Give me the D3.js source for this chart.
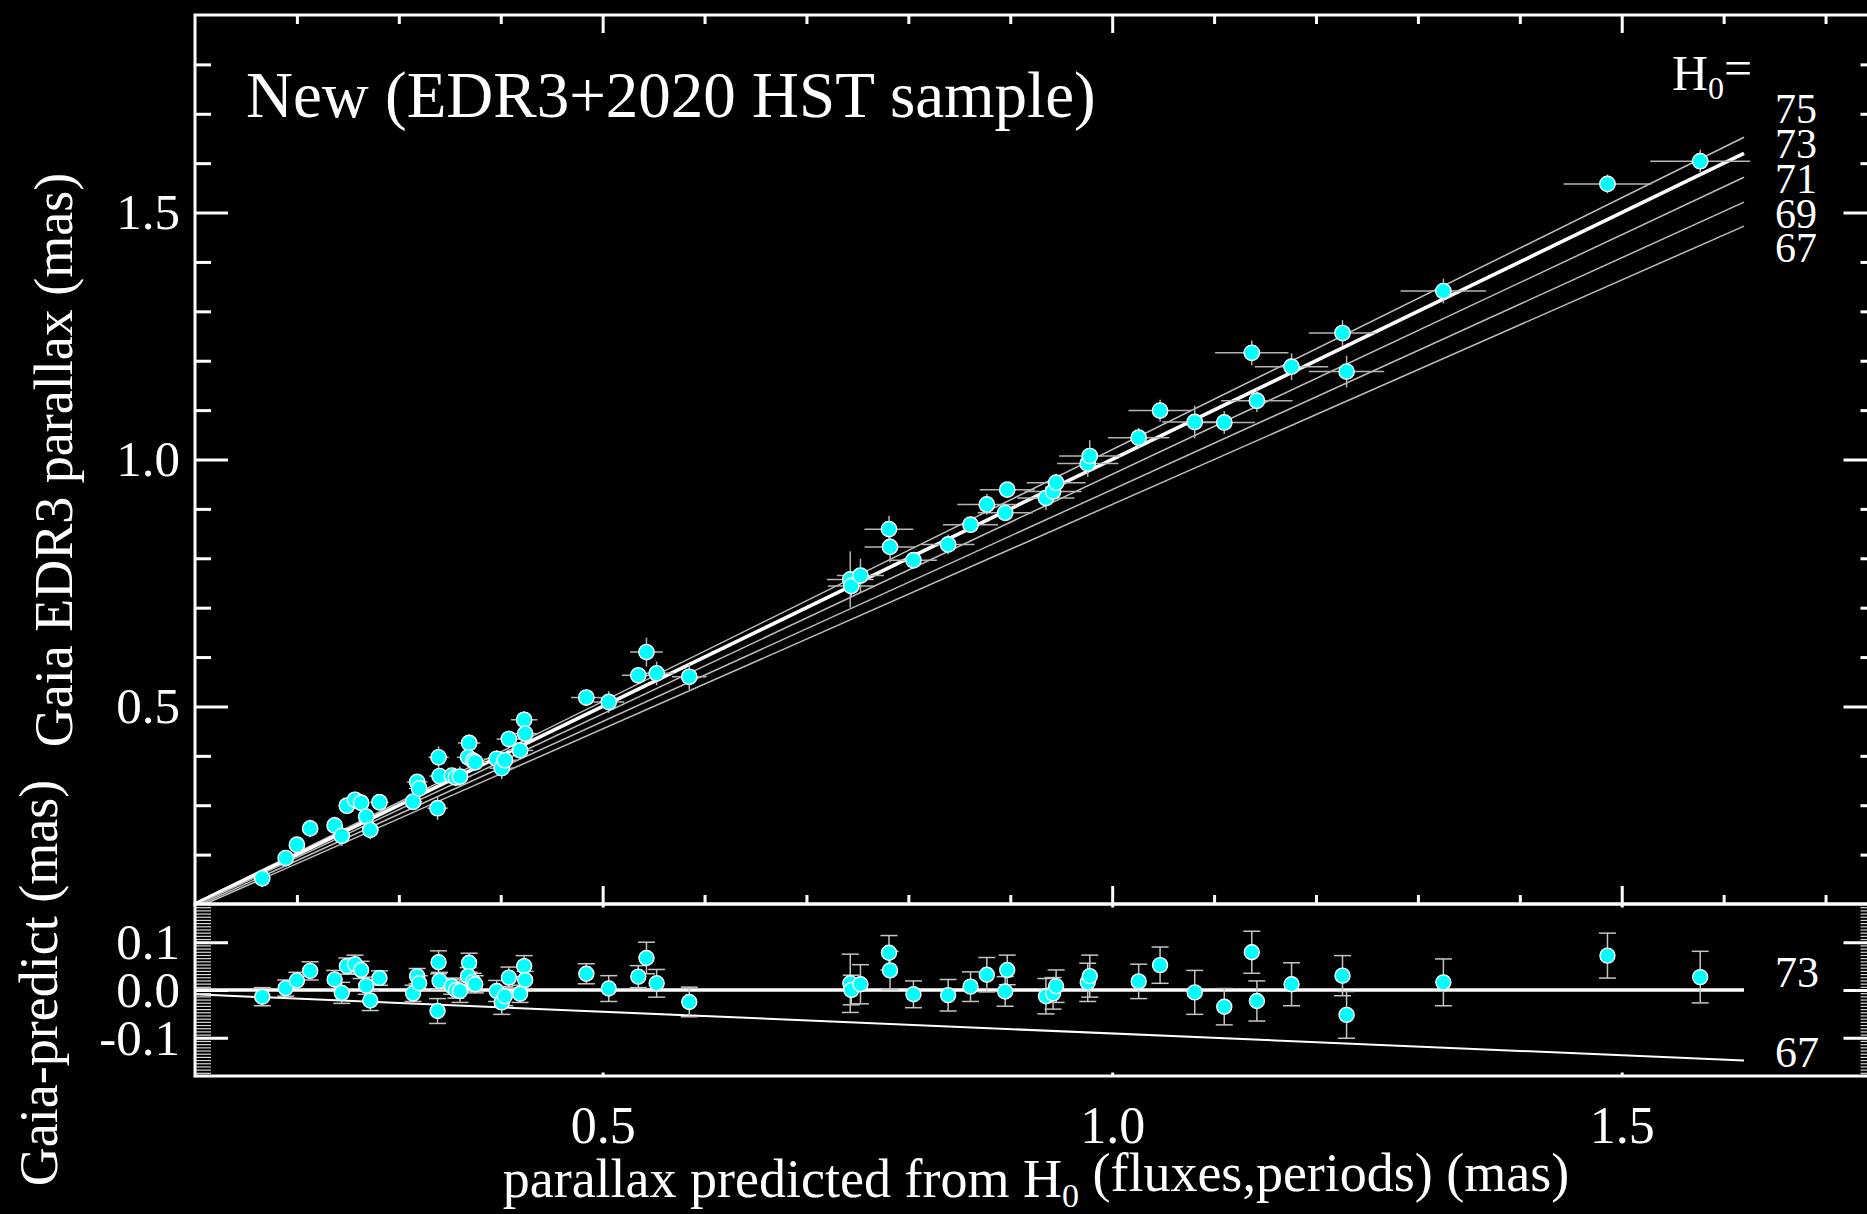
<!DOCTYPE html>
<html>
<head>
<meta charset="utf-8">
<script src="https://cdn.jsdelivr.net/npm/d3@7"></script>
<style>
  html, body { margin: 0; padding: 0; background: #000; }
  svg { display: block; }
  text { font-family: "Liberation Serif", "Times New Roman", serif; fill: #fff; }
</style>
</head>
<body>
<svg id="chart" width="1867" height="1214"></svg>
<script>
// Cepheid parallaxes: value predicted from H0 (fluxes, periods) vs. Gaia EDR3 measurement
const predicted = [0.166, 0.189, 0.200, 0.213, 0.237, 0.244, 0.249, 0.257, 0.263, 0.268, 0.272, 0.281,
  0.314, 0.318, 0.320, 0.339, 0.340, 0.338, 0.352, 0.356, 0.360, 0.369, 0.368, 0.373, 0.375,
  0.396, 0.401, 0.404, 0.408, 0.419, 0.423, 0.424, 0.484, 0.506, 0.535, 0.543, 0.553, 0.585,
  0.743, 0.744, 0.753, 0.781, 0.782, 0.805, 0.839, 0.861, 0.877, 0.895, 0.897, 0.935, 0.942,
  0.945, 0.976, 0.978, 1.026, 1.047, 1.081, 1.110, 1.137, 1.142, 1.176, 1.226, 1.230, 1.325,
  1.486, 1.577];
const gaia = [0.152, 0.193, 0.220, 0.253, 0.259, 0.238, 0.299, 0.311, 0.305, 0.277, 0.250, 0.306,
  0.307, 0.347, 0.334, 0.397, 0.359, 0.294, 0.360, 0.356, 0.358, 0.426, 0.397, 0.390, 0.387,
  0.394, 0.375, 0.391, 0.434, 0.411, 0.473, 0.445, 0.518, 0.509, 0.563, 0.610, 0.567, 0.560,
  0.757, 0.744, 0.765, 0.859, 0.823, 0.796, 0.828, 0.868, 0.909, 0.892, 0.939, 0.922, 0.935,
  0.953, 0.992, 1.007, 1.044, 1.099, 1.076, 1.075, 1.216, 1.119, 1.188, 1.256, 1.178, 1.341,
  1.558, 1.604];
// uncertainty of the predicted parallax (horizontal bars, upper panel)
const predictedErr = [0.005, 0.006, 0.006, 0.006, 0.007, 0.007, 0.008, 0.008, 0.008, 0.008, 0.008, 0.009,
  0.009, 0.010, 0.010, 0.010, 0.010, 0.010, 0.011, 0.011, 0.011, 0.011, 0.011, 0.011, 0.011,
  0.012, 0.012, 0.012, 0.012, 0.013, 0.013, 0.013, 0.015, 0.015, 0.016, 0.016, 0.017, 0.017,
  0.023, 0.023, 0.023, 0.024, 0.025, 0.023, 0.026, 0.027, 0.029, 0.027, 0.027, 0.028, 0.028,
  0.029, 0.030, 0.030, 0.030, 0.031, 0.032, 0.030, 0.036, 0.035, 0.036, 0.033, 0.037, 0.042,
  0.043, 0.049];
// Gaia parallax uncertainty (vertical bars, upper panel)
const gaiaErr = [0.018, 0.016, 0.016, 0.018, 0.018, 0.021, 0.015, 0.017, 0.016, 0.016, 0.019, 0.012,
  0.014, 0.013, 0.013, 0.022, 0.015, 0.024, 0.013, 0.013, 0.021, 0.017, 0.014, 0.014, 0.014,
  0.018, 0.022, 0.016, 0.018, 0.012, 0.018, 0.012, 0.015, 0.022, 0.017, 0.029, 0.024, 0.026,
  0.057, 0.021, 0.034, 0.027, 0.031, 0.016, 0.020, 0.015, 0.021, 0.015, 0.015, 0.024, 0.018,
  0.018, 0.027, 0.032, 0.020, 0.022, 0.033, 0.023, 0.025, 0.023, 0.027, 0.026, 0.032, 0.025,
  0.019, 0.023];
// combined uncertainty of Gaia - predicted (lower panel)
const residualErr = [0.019, 0.017, 0.017, 0.019, 0.019, 0.022, 0.017, 0.019, 0.018, 0.018, 0.021, 0.015,
  0.017, 0.016, 0.016, 0.024, 0.018, 0.026, 0.017, 0.017, 0.024, 0.020, 0.018, 0.018, 0.018,
  0.022, 0.025, 0.020, 0.022, 0.018, 0.022, 0.018, 0.021, 0.027, 0.023, 0.033, 0.029, 0.031,
  0.061, 0.031, 0.041, 0.036, 0.040, 0.028, 0.033, 0.031, 0.036, 0.031, 0.031, 0.037, 0.033,
  0.034, 0.040, 0.044, 0.036, 0.038, 0.046, 0.038, 0.044, 0.042, 0.045, 0.042, 0.049, 0.049,
  0.047, 0.054];

// model lines: Gaia parallax relative to the H0 = 73 prediction
const hubbleValues = [75, 73, 71, 69, 67];
const hubbleFactor = [1.020, 1.000, 0.970, 0.939, 0.909];
const lineStart = 0.1;
const lineEnd = 1.62;
const residualLines = [73, 67];

const xMajor = [0.5, 1.0, 1.5];
const yMajorTop = [0.5, 1.0, 1.5];
const yMajorBottom = [-0.1, 0.0, 0.1];

const points = predicted.map((p, i) => ({
  x: p, y: gaia[i], ex: predictedErr[i], ey: gaiaErr[i],
  r: gaia[i] - p, er: residualErr[i]
}));

const svg = d3.select("#chart");
svg.append("rect").attr("width", 1867).attr("height", 1214).attr("fill", "#000");

const L = 195, R = 1876.5, T = 15, MID = 904, B = 1076;

const x = d3.scaleLinear().domain([0.1, 1.75]).range([L, R]);
const yTop = d3.scaleLinear().domain([0.1, 1.9]).range([MID, T]);
const yBot = d3.scaleLinear().domain([-0.18, 0.18]).range([B, MID]);

const xMinor = d3.range(2, 18).map(i => i / 10).filter(v => !xMajor.some(m => Math.abs(m - v) < 1e-6));
const yMinorTop = d3.range(2, 19).map(i => i / 10).filter(v => !yMajorTop.some(m => Math.abs(m - v) < 1e-6));
const yMinorBottom = d3.range(-27, 28).map(i => i / 150).filter(v => !yMajorBottom.some(m => Math.abs(m - v) < 1e-6));

const defs = svg.append("defs");
defs.append("clipPath").attr("id", "clipTop")
  .append("rect").attr("x", L).attr("y", T).attr("width", R - L).attr("height", MID - T);
defs.append("clipPath").attr("id", "clipBot")
  .append("rect").attr("x", L).attr("y", MID).attr("width", R - L).attr("height", B - MID);

// ---------- upper panel ----------
const upperPanel = svg.append("g");
const lineGen = d3.line().x(d => x(d[0])).y(d => yTop(d[1]));
const topLines = upperPanel.append("g").attr("clip-path", "url(#clipTop)");
hubbleValues.forEach((h, i) => {
  const f = hubbleFactor[i];
  topLines.append("path")
    .datum([[lineStart, lineStart * f], [lineEnd, lineEnd * f]])
    .attr("d", lineGen)
    .attr("fill", "none")
    .attr("stroke", h === 73 ? "#ffffff" : "#bdbdbd")
    .attr("stroke-width", h === 73 ? 3.6 : 1.5);
});

const topBars = upperPanel.append("g").attr("stroke", "#b4b4b4").attr("stroke-width", 1.5);
topBars.selectAll("line.h").data(points).join("line").attr("class", "h")
  .attr("x1", d => x(d.x - d.ex)).attr("x2", d => x(d.x + d.ex))
  .attr("y1", d => yTop(d.y)).attr("y2", d => yTop(d.y));
topBars.selectAll("line.v").data(points).join("line").attr("class", "v")
  .attr("x1", d => x(d.x)).attr("x2", d => x(d.x))
  .attr("y1", d => yTop(d.y - d.ey)).attr("y2", d => yTop(d.y + d.ey));

upperPanel.append("g").selectAll("circle").data(points).join("circle")
  .attr("cx", d => x(d.x)).attr("cy", d => yTop(d.y)).attr("r", 7.7)
  .attr("fill", "#00ffff").attr("stroke", "#ffffff").attr("stroke-width", 1.4);

// ---------- lower panel ----------
const lowerPanel = svg.append("g");
const resLines = lowerPanel.append("g").attr("clip-path", "url(#clipBot)");
const resGen = d3.line().x(d => x(d[0])).y(d => yBot(d[1]));
residualLines.forEach(h => {
  const f = hubbleFactor[hubbleValues.indexOf(h)];
  resLines.append("path")
    .datum([[lineStart, lineStart * (f - 1)], [lineEnd, lineEnd * (f - 1)]])
    .attr("d", resGen)
    .attr("fill", "none")
    .attr("stroke", "#ffffff")
    .attr("stroke-width", h === 73 ? 3.6 : 2);
});

const botBars = lowerPanel.append("g").attr("stroke", "#c4c4c4").attr("stroke-width", 1.5);
botBars.selectAll("line.v").data(points).join("line").attr("class", "v")
  .attr("x1", d => x(d.x)).attr("x2", d => x(d.x))
  .attr("y1", d => yBot(d.r - d.er)).attr("y2", d => yBot(d.r + d.er));
["lo", "hi"].forEach(side => {
  botBars.selectAll("line.cap" + side).data(points).join("line").attr("class", "cap" + side)
    .attr("x1", d => x(d.x) - 8.5).attr("x2", d => x(d.x) + 8.5)
    .attr("y1", d => yBot(side === "lo" ? d.r - d.er : d.r + d.er))
    .attr("y2", d => yBot(side === "lo" ? d.r - d.er : d.r + d.er));
});

lowerPanel.append("g").selectAll("circle").data(points).join("circle")
  .attr("cx", d => x(d.x)).attr("cy", d => yBot(d.r)).attr("r", 7.5)
  .attr("fill", "#00ffff").attr("stroke", "#ffffff").attr("stroke-width", 1.4);

// ---------- axes ----------
function styleAxis(g) {
  g.select(".domain").remove();
  g.selectAll(".tick line").attr("stroke", "#fff").attr("stroke-width", 3);
  g.selectAll(".tick text").attr("fill", "#fff")
    .style("font-family", '"Liberation Serif", "Times New Roman", serif');
}
function addAxis(axisFn, scale, values, size, transform, fmt, fontSize, pad) {
  const a = axisFn(scale).tickValues(values).tickSizeInner(-size).tickSizeOuter(0)
    .tickPadding(pad || 0).tickFormat(fmt || (() => ""));
  const g = svg.append("g").attr("transform", transform).call(a);
  styleAxis(g);
  if (fontSize) g.selectAll(".tick text").style("font-size", fontSize + "px");
  return g;
}
const fmt1 = d => d.toFixed(1);

// upper panel: x ticks top and bottom, y ticks left and right
addAxis(d3.axisBottom, x, xMajor, 18, `translate(0,${MID})`);
addAxis(d3.axisBottom, x, xMinor, 9, `translate(0,${MID})`);
addAxis(d3.axisTop, x, xMajor, 18, `translate(0,${T})`);
addAxis(d3.axisTop, x, xMinor, 9, `translate(0,${T})`);
addAxis(d3.axisLeft, yTop, yMajorTop, 33, `translate(${L},0)`, fmt1, 51, 15);
addAxis(d3.axisLeft, yTop, yMinorTop, 16, `translate(${L},0)`);
addAxis(d3.axisRight, yTop, yMajorTop, 33, `translate(${R},0)`);
addAxis(d3.axisRight, yTop, yMinorTop, 16, `translate(${R},0)`);

// lower panel
addAxis(d3.axisBottom, x, xMajor, 3.5, `translate(0,${B})`, fmt1, 52, 30);
addAxis(d3.axisTop, x, xMajor, 3.5, `translate(0,${MID})`);
const minorLeft = addAxis(d3.axisLeft, yBot, yMinorBottom, 16, `translate(${L},0)`);
minorLeft.selectAll(".tick line").attr("stroke-width", 1.2).attr("stroke", "#d8d8d8");
addAxis(d3.axisLeft, yBot, yMajorBottom, 33, `translate(${L},0)`, fmt1, 51, 15);
const minorRight = addAxis(d3.axisRight, yBot, yMinorBottom, 16, `translate(${R},0)`);
minorRight.selectAll(".tick line").attr("stroke-width", 1.2).attr("stroke", "#d8d8d8");
addAxis(d3.axisRight, yBot, yMajorBottom, 33, `translate(${R},0)`);

// frames
[[T, MID], [MID, B]].forEach(([y0, y1]) => {
  svg.append("rect").attr("x", L).attr("y", y0).attr("width", R - L).attr("height", y1 - y0)
    .attr("fill", "none").attr("stroke", "#fff").attr("stroke-width", 3);
});

// ---------- text ----------
svg.append("text").attr("x", 246).attr("y", 117).style("font-size", "65px")
  .text("New (EDR3+2020 HST sample)");

const h0 = svg.append("text").attr("x", 1672).attr("y", 90).style("font-size", "50px");
h0.append("tspan").text("H");
h0.append("tspan").attr("dy", "0.28em").style("font-size", "32px").text("0");
h0.append("tspan").attr("dy", "-0.28em").text("=");

const labelBase = [123, 158, 193, 228, 262];
svg.append("g").selectAll("text").data(hubbleValues).join("text")
  .attr("x", 1775).attr("y", (d, i) => labelBase[i]).style("font-size", "42px")
  .text(d => d);

svg.append("g").selectAll("text").data(residualLines).join("text")
  .attr("x", 1775).attr("y", d => d === 73 ? 987 : 1067).style("font-size", "44px")
  .text(d => d);

svg.append("text").attr("transform", "translate(72,460) rotate(-90)")
  .attr("text-anchor", "middle").style("font-size", "54px")
  .text("Gaia EDR3 parallax (mas)");

svg.append("text").attr("transform", "translate(57,983) rotate(-90)")
  .attr("text-anchor", "middle").style("font-size", "54px")
  .text("Gaia-predict (mas)");

const xt = svg.append("text").attr("x", 1036).attr("y", 1197)
  .attr("text-anchor", "middle").style("font-size", "54px");
xt.append("tspan").text("parallax predicted from H");
xt.append("tspan").attr("dy", "0.3em").style("font-size", "34px").text("0");
xt.append("tspan").attr("dy", "-0.3em").text(" (fluxes,periods) (mas)");
</script>
</body>
</html>
